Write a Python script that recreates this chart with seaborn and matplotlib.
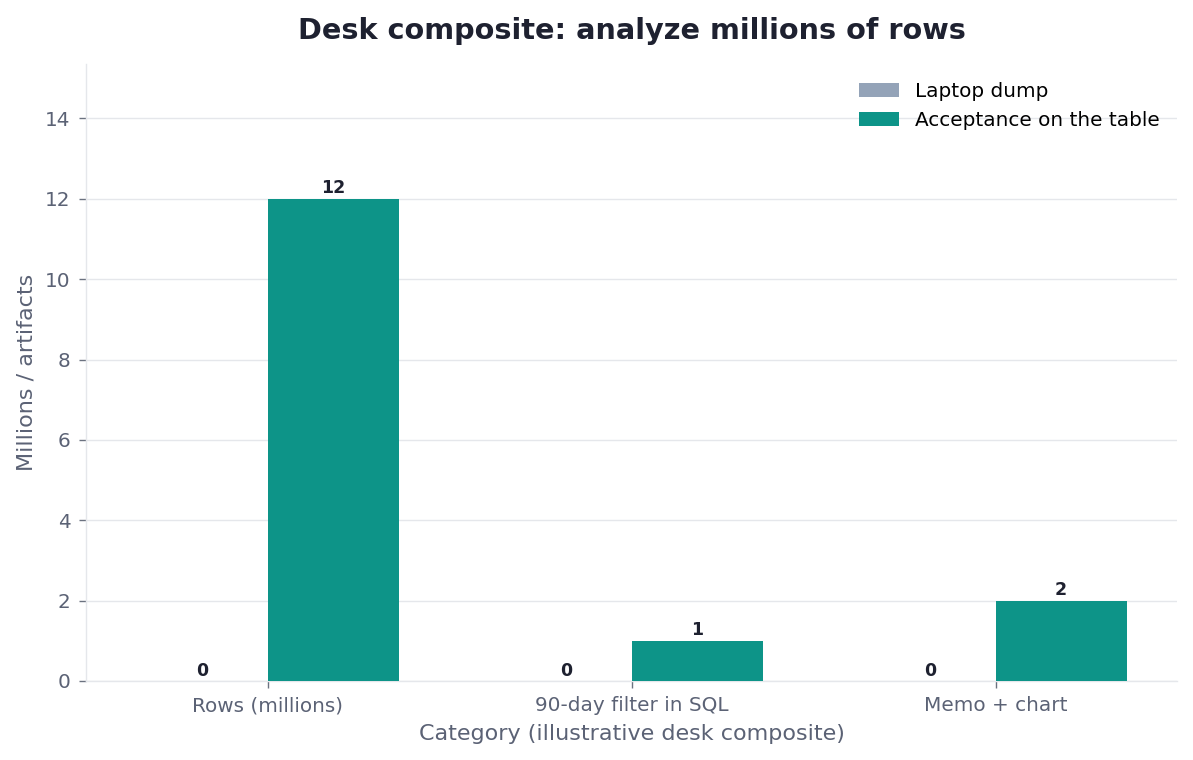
import numpy as np
import pandas as pd
import matplotlib
matplotlib.use("Agg")
import matplotlib.pyplot as plt
import seaborn as sns

categories = ["Rows (millions)", "90-day filter in SQL", "Memo + chart"]
series_names = ["Laptop dump", "Acceptance on the table"]
laptop_values = [0, 0, 0]
table_values = [12, 1, 2]

colors = ["#94A3B8", "#0D9488"]
text_dark = "#1E2130"
text_gray = "#5B6275"
grid_color = "#E5E7EB"

df = pd.DataFrame({
    "category": categories * 2,
    "series": [series_names[0]] * 3 + [series_names[1]] * 3,
    "value": laptop_values + table_values,
})

sns.set_theme(style="white")
plt.rcParams["font.family"] = ["DejaVu Sans"]

fig, ax = plt.subplots(figsize=(11.93, 7.6), dpi=100)
sns.barplot(data=df, x="category", y="value", hue="series", order=categories,
            hue_order=series_names, palette=colors, width=0.72, gap=0,
            saturation=1, linewidth=0, ax=ax, zorder=3)

for cont in ax.containers:
    ax.bar_label(cont, fmt="%g", padding=1, fontsize=12.5, fontweight="bold",
                 color=text_dark)

ax.set_ylim(0, max(table_values) * 1.28)
ax.set_xlim(-0.5, len(categories) - 0.5)
ax.yaxis.grid(True, color=grid_color, linewidth=1, zorder=0)
ax.set_axisbelow(True)

for side in ["top", "right"]:
    ax.spines[side].set_visible(False)
for side in ["left", "bottom"]:
    ax.spines[side].set_color(grid_color)
    ax.spines[side].set_linewidth(1)

ax.tick_params(axis="both", labelcolor=text_gray, color="#6B7280",
               labelsize=14.4, length=5, width=1, direction="out",
               bottom=True, left=True, pad=6)

ax.set_title("Desk composite: analyze millions of rows", fontsize=20.7,
             fontweight="bold", color=text_dark, pad=18)
ax.set_xlabel("Category (illustrative desk composite)", fontsize=16,
              color=text_gray, labelpad=6)
ax.set_ylabel("Millions / artifacts", fontsize=16, color=text_gray,
              labelpad=6)

leg = ax.legend(frameon=False, fontsize=14.4, loc="upper right",
                handlelength=2.0, handleheight=0.7, borderaxespad=0.5)
for t in leg.get_texts():
    t.set_color("black")

fig.subplots_adjust(left=0.072, right=0.987, top=0.916, bottom=0.104)
fig.savefig("out.png", dpi=100)
